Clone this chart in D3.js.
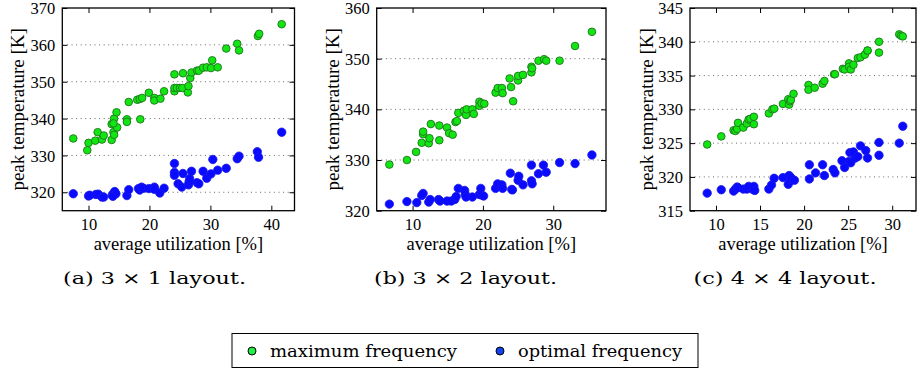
<!DOCTYPE html>
<html><head><meta charset="utf-8">
<script src="https://cdn.jsdelivr.net/npm/d3@7"></script>
<style>body{margin:0;background:#fff}svg{display:block}</style>
</head><body>
<svg id="chart" width="917" height="369"></svg>
<script>
// ---------- data ----------
const aMax = [[7.5,334.6],[10.0,333.4],[9.8,331.4],[11.1,334.0],[11.5,336.3],[12.2,334.3],[12.5,335.4],[13.8,334.2],[13.8,338.5],[14.1,336.3],[14.2,335.6],[14.2,340.0],[14.6,341.7],[14.7,337.6],[14.1,338.7],[16.3,339.8],[16.3,339.1],[16.6,344.5],[18.5,339.8],[18.0,345.1],[18.4,345.3],[18.8,345.6],[19.9,347.0],[20.8,345.6],[20.8,344.9],[21.8,345.4],[22.4,347.4],[24.1,352.0],[24.1,347.4],[24.1,348.3],[24.5,348.3],[25.0,348.3],[25.4,348.3],[25.5,352.3],[26.3,347.1],[26.4,348.8],[26.7,351.0],[26.9,352.5],[27.8,353.0],[28.1,353.0],[28.8,353.8],[29.4,353.9],[30.1,353.7],[30.3,355.8],[31.2,353.9],[32.6,359.0],[34.4,360.3],[34.7,358.5],[37.8,362.4],[38.0,363.0],[41.7,365.6]];
const aOpt = [[7.5,319.6],[10.0,319.0],[10.2,319.2],[11.2,319.4],[11.6,319.5],[12.2,318.7],[12.5,318.7],[13.9,319.2],[14.1,319.7],[14.3,320.2],[14.5,319.6],[14.0,318.9],[16.3,319.1],[16.6,320.7],[18.2,321.0],[18.4,320.6],[18.7,321.4],[19.0,321.1],[19.9,321.0],[20.8,321.4],[20.8,320.8],[21.7,319.8],[22.4,321.1],[24.1,327.8],[24.1,325.4],[24.1,324.6],[24.7,322.3],[25.3,321.4],[25.5,325.1],[26.4,322.0],[26.5,322.8],[26.6,323.7],[26.9,325.7],[27.8,322.6],[28.1,322.3],[28.8,325.7],[29.4,323.8],[30.1,325.0],[30.4,328.9],[31.2,326.0],[32.6,326.5],[34.4,329.1],[34.7,329.8],[37.7,331.0],[37.9,329.5],[41.7,336.3]];
const bMax = [[6.7,329.1],[9.2,330.0],[10.5,331.6],[11.3,333.4],[11.5,335.1],[11.5,335.6],[12.3,333.3],[12.4,334.3],[12.6,337.1],[13.8,333.9],[13.8,336.8],[14.9,336.4],[15.2,335.3],[15.7,335.0],[16.1,337.5],[16.3,337.7],[16.5,339.3],[17.3,339.7],[17.6,338.9],[17.7,340.0],[18.5,340.0],[18.7,339.1],[19.5,341.5],[19.5,340.7],[19.8,341.2],[20.2,341.1],[21.8,343.3],[22.1,344.2],[22.7,344.2],[22.8,343.2],[23.8,346.1],[24.0,344.4],[24.3,341.6],[25.0,345.7],[25.0,346.6],[25.7,346.8],[26.9,347.3],[26.9,348.4],[27.0,348.1],[27.9,349.6],[28.7,349.9],[29.0,349.6],[30.9,349.6],[33.1,352.5],[35.5,355.3]];
const bOpt = [[6.7,321.3],[9.2,321.8],[10.6,321.6],[11.3,323.0],[11.5,323.4],[12.3,321.7],[12.5,322.2],[13.7,322.2],[13.9,321.9],[14.9,321.9],[15.5,321.9],[16.0,322.2],[16.2,322.8],[16.5,324.4],[17.4,324.0],[17.5,323.2],[17.6,322.7],[18.5,322.7],[19.5,323.2],[19.7,324.4],[19.8,323.1],[20.1,322.9],[21.8,324.4],[22.1,325.3],[22.7,325.1],[22.8,324.4],[23.9,327.4],[24.1,324.2],[24.2,324.1],[25.0,326.0],[25.1,326.8],[25.7,325.1],[26.9,329.0],[26.9,325.9],[27.0,325.3],[27.9,327.3],[28.6,329.0],[29.0,327.6],[30.9,329.5],[33.1,329.3],[35.5,331.0]];
const cMax = [[9.0,324.8],[10.6,326.0],[12.0,326.9],[12.2,326.8],[12.4,327.1],[12.5,328.0],[13.1,327.3],[13.5,327.9],[13.7,328.5],[13.9,328.6],[14.3,327.8],[14.3,328.9],[16.0,329.4],[16.4,330.0],[16.6,330.1],[17.6,330.8],[18.2,331.5],[18.3,330.7],[18.4,331.2],[18.5,331.4],[18.8,332.3],[20.5,333.6],[20.5,332.9],[21.2,333.2],[22.1,333.8],[22.3,334.2],[23.4,335.2],[23.5,335.2],[24.4,336.0],[24.6,335.9],[25.1,336.8],[25.1,336.3],[25.3,335.9],[25.6,336.6],[26.1,337.6],[26.4,337.7],[26.9,338.1],[27.2,338.7],[27.2,338.7],[28.5,340.0],[28.5,338.4],[30.8,341.1],[31.0,340.9],[31.2,340.8]];
const cOpt = [[9.0,317.6],[10.6,318.1],[12.0,317.9],[12.2,318.2],[12.4,318.5],[12.5,318.4],[13.1,318.2],[13.5,318.2],[13.7,318.6],[14.1,318.2],[14.3,318.6],[14.4,318.0],[16.0,318.2],[16.3,318.8],[16.6,319.8],[17.6,319.9],[18.2,318.9],[18.3,320.2],[18.4,319.6],[18.5,319.9],[18.9,319.5],[20.6,321.8],[20.6,319.7],[21.3,320.6],[22.1,321.8],[22.3,320.2],[23.3,321.1],[23.5,320.6],[24.3,322.4],[24.6,321.4],[25.1,322.3],[25.2,323.6],[25.3,322.1],[25.6,323.7],[25.8,322.8],[26.1,323.0],[26.4,324.6],[27.0,323.9],[27.2,322.8],[28.5,325.1],[28.5,323.2],[30.8,325.0],[31.2,327.5]];

const aXTicks = [10,20,30,40], aYTicks = [320,330,340,350,360,370];
const bXTicks = [10,20,30],    bYTicks = [320,330,340,350,360];
const cXTicks = [10,15,20,25,30], cYTicks = [315,320,325,330,335,340,345];
const captions = ["(a) 3 \u00d7 1 layout.", "(b) 3 \u00d7 2 layout.", "(c) 4 \u00d7 4 layout."];
const seriesNames = ["maximum frequency", "optimal frequency"];
const xLabel = "average utilization [%]", yLabel = "peak temperature [K]";

// ---------- layout ----------
const svg = d3.select("#chart");
const serif = "Liberation Serif, Times New Roman, serif";
const cm = "DejaVu Serif, serif";
const panels = [
  {max:aMax,opt:aOpt,xt:aXTicks,yt:aYTicks,xd:[5.7,43.8],yd:[315,370],L:62.3,R:294.5,ylx:18,cap:captions[0],capx:154.5},
  {max:bMax,opt:bOpt,xt:bXTicks,yt:bYTicks,xd:[4.9,37.5],yd:[320,360],L:376.7,R:606,ylx:333,cap:captions[1],capx:465.5},
  {max:cMax,opt:cOpt,xt:cXTicks,yt:cYTicks,xd:[7.05,32.7],yd:[315,345],L:690,R:916,ylx:647,cap:captions[2],capx:785}
];
const T = 8, B = 210.7;

panels.forEach(p => {
  const x = d3.scaleLinear().domain(p.xd).range([p.L, p.R]);
  const y = d3.scaleLinear().domain(p.yd).range([B, T]);
  const g = svg.append("g");
  // grid
  g.append("g").selectAll("line").data(p.yt.filter(v => v > p.yd[0] && v < p.yd[1])).join("line")
    .attr("x1", p.L).attr("x2", p.R).attr("y1", d => y(d)).attr("y2", d => y(d))
    .attr("stroke", "#666").attr("stroke-width", 1).attr("stroke-dasharray", "1,3.6");
  // axes
  const fmt = d3.format("d");
  const xa = g.append("g").attr("transform", `translate(0,${B})`)
    .call(d3.axisBottom(x).tickValues(p.xt).tickSize(-5).tickPadding(8).tickFormat(fmt));
  const xt = g.append("g").attr("transform", `translate(0,${T})`)
    .call(d3.axisTop(x).tickValues(p.xt).tickSize(-5).tickFormat(""));
  const ya = g.append("g").attr("transform", `translate(${p.L},0)`)
    .call(d3.axisLeft(y).tickValues(p.yt).tickSize(-5).tickPadding(7).tickFormat(fmt));
  const yr = g.append("g").attr("transform", `translate(${p.R},0)`)
    .call(d3.axisRight(y).tickValues(p.yt).tickSize(-5).tickFormat(""));
  [xa,xt,ya,yr].forEach(a => {
    a.attr("font-family", null).attr("font-size", null);
    a.select(".domain").remove();
    a.selectAll("line").attr("stroke", "#000");
    a.selectAll("text").style("font-family", serif).style("font-size", "16.5px").attr("fill", "#000");
  });
  ya.selectAll("text").attr("dy", "0.34em");
  g.append("rect").attr("x", p.L).attr("y", T).attr("width", p.R - p.L).attr("height", B - T)
    .attr("fill", "none").attr("stroke", "#000").attr("stroke-width", 1.3);
  // points
  g.append("g").selectAll("circle").data(p.max).join("circle")
    .attr("cx", d => x(d[0])).attr("cy", d => y(d[1])).attr("r", 3.8)
    .attr("fill", "#12e612").attr("stroke", "#1f7f1f").attr("stroke-width", 1);
  g.append("g").selectAll("circle").data(p.opt).join("circle")
    .attr("cx", d => x(d[0])).attr("cy", d => y(d[1])).attr("r", 4.2)
    .attr("fill", "#0a0aff").attr("stroke", "#1818e8").attr("stroke-width", 0.8);
  // labels
  g.append("text").attr("x", (p.L + p.R) / 2).attr("y", 250).attr("text-anchor", "middle")
    .style("font-family", serif).style("font-size", "18.5px").text(xLabel);
  g.append("text").attr("transform", `translate(${p.ylx + 6},${(T + B) / 2}) rotate(-90)`)
    .attr("text-anchor", "middle").style("font-family", serif).style("font-size", "19px").text(yLabel);
  g.append("text").attr("x", p.capx).attr("y", 284).attr("text-anchor", "middle")
    .attr("textLength", 183).attr("lengthAdjust", "spacingAndGlyphs")
    .style("font-family", cm).style("font-size", "17px").text(p.cap);
});

// legend
const lg = svg.append("g");
lg.append("rect").attr("x", 232).attr("y", 333.5).attr("width", 466).attr("height", 34)
  .attr("fill", "#fff").attr("stroke", "#000").attr("stroke-width", 1);
const lx = d3.scalePoint().domain(seriesNames).range([252, 500]);
const lc = d3.scaleOrdinal().domain(seriesNames).range(["#22ee44", "#1144ee"]);
const lw = d3.scaleOrdinal().domain(seriesNames).range([187, 164]);
lg.selectAll("circle").data(seriesNames).join("circle")
  .attr("cx", d => lx(d)).attr("cy", 351).attr("r", 4)
  .attr("fill", d => lc(d)).attr("stroke", "#000").attr("stroke-width", 1);
lg.selectAll("text").data(seriesNames).join("text")
  .attr("x", d => lx(d) + 18).attr("y", 356.5)
  .attr("textLength", d => lw(d)).attr("lengthAdjust", "spacingAndGlyphs")
  .style("font-family", cm).style("font-size", "16px").text(d => d);
</script>
</body></html>
